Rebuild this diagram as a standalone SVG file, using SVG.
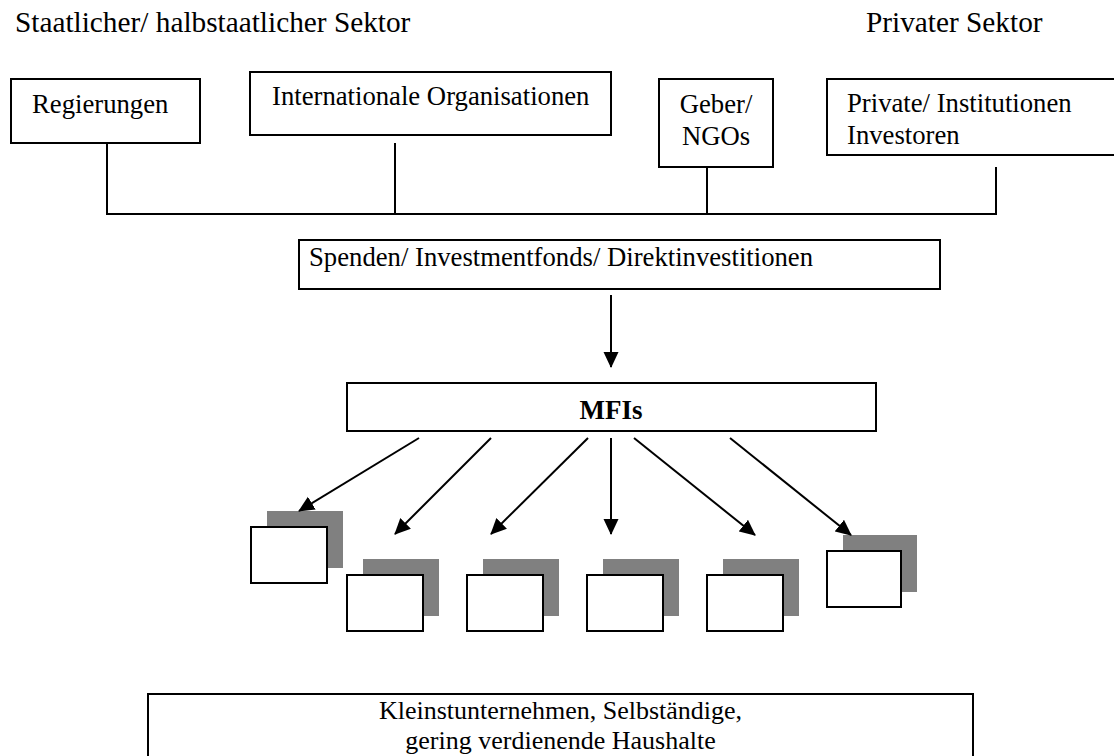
<svg xmlns="http://www.w3.org/2000/svg" width="1114" height="756" viewBox="0 0 1114 756">
<style>
text{font-family:"Liberation Serif","Times New Roman",serif;font-size:26.7px;fill:#000}
.h{font-size:29.3px}
.box{fill:#fff;stroke:#000;stroke-width:2}
.ln{stroke:#000;stroke-width:2;fill:none}
.sh{fill:#808080}
.b{font-weight:bold;font-size:27px}
.s{font-size:26px}
</style>
<defs>
<marker id="ah" markerWidth="16" markerHeight="16" refX="15" refY="8" orient="auto" markerUnits="userSpaceOnUse" viewBox="0 0 16 16">
<path d="M0,0.5 L16,8 L0,15.5 z" fill="#000"/>
</marker>
</defs>
<g id="headings">
<text class="h" x="15" y="32">Staatlicher/ halbstaatlicher Sektor</text>
<text class="h" x="866" y="32">Privater Sektor</text>
</g>
<g id="regierungen"><rect class="box" x="11" y="79" width="189" height="64"/><text x="32" y="113">Regierungen</text></g>
<g id="internationale"><rect class="box" x="250" y="72" width="361" height="63"/><text x="272" y="105">Internationale Organisationen</text></g>
<g id="geber"><rect class="box" x="659" y="79" width="114" height="88"/><text x="716" y="113" text-anchor="middle">Geber/</text><text x="716" y="145" text-anchor="middle">NGOs</text></g>
<g id="private"><rect class="box" x="827" y="79" width="290" height="76"/><text x="847" y="112">Private/ Institutionen</text><text x="847" y="144">Investoren</text></g>
<g id="spenden"><rect class="box" x="299" y="240" width="641" height="49"/><text x="309" y="266">Spenden/ Investmentfonds/ Direktinvestitionen</text></g>
<g id="mfis"><rect class="box" x="347" y="383" width="529" height="48"/><text class="b" x="611" y="419" text-anchor="middle">MFIs</text></g>
<g id="mfi1"><rect class="sh" x="267" y="511" width="76" height="57"/><rect class="box" x="251" y="527" width="76" height="56"/></g>
<g id="mfi2"><rect class="sh" x="363" y="559" width="76" height="57"/><rect class="box" x="347" y="575" width="76" height="56"/></g>
<g id="mfi3"><rect class="sh" x="483" y="559" width="76" height="57"/><rect class="box" x="467" y="575" width="76" height="56"/></g>
<g id="mfi4"><rect class="sh" x="603" y="559" width="76" height="57"/><rect class="box" x="587" y="575" width="76" height="56"/></g>
<g id="mfi5"><rect class="sh" x="723" y="559" width="76" height="57"/><rect class="box" x="707" y="575" width="76" height="56"/></g>
<g id="mfi6"><rect class="sh" x="843" y="535" width="74" height="57"/><rect class="box" x="827" y="551" width="74" height="56"/></g>
<g id="zielgruppe"><rect class="box" x="148" y="694" width="825" height="70"/><text class="s" x="560.5" y="719" text-anchor="middle">Kleinstunternehmen, Selbständige,</text><text class="s" x="560.5" y="748.5" text-anchor="middle">gering verdienende Haushalte</text></g>
<g id="connectors">
<path class="ln" d="M107,143 V214 H996 V167 M395,143 V214 M707,167 V214"/>
<line class="ln" x1="611" y1="295" x2="611" y2="367" marker-end="url(#ah)"/>
<line class="ln" x1="419" y1="438" x2="299" y2="511" marker-end="url(#ah)"/>
<line class="ln" x1="491" y1="438" x2="395" y2="534" marker-end="url(#ah)"/>
<line class="ln" x1="588" y1="438" x2="491" y2="534" marker-end="url(#ah)"/>
<line class="ln" x1="611" y1="438" x2="611" y2="534" marker-end="url(#ah)"/>
<line class="ln" x1="634" y1="438" x2="755" y2="535" marker-end="url(#ah)"/>
<line class="ln" x1="730" y1="438" x2="851" y2="535" marker-end="url(#ah)"/>
</g>
</svg>
